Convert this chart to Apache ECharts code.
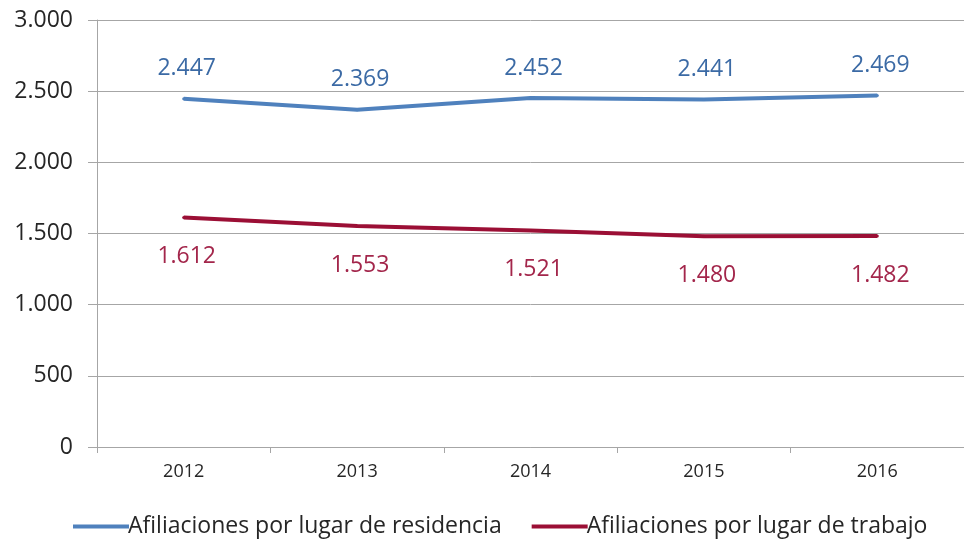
<!DOCTYPE html>
<html><head><meta charset="utf-8">
<script src="https://cdn.jsdelivr.net/npm/echarts@6/dist/echarts.min.js"></script>
<style>html,body{margin:0;padding:0;background:#fff;overflow:hidden}#c{width:964px;height:545px}</style>
</head><body><div id="c"></div>
<script>
const categories = ['2012','2013','2014','2015','2016'];
const residencia = [2447, 2369, 2452, 2441, 2469];
const trabajo = [1612, 1553, 1521, 1480, 1482];
const seriesNames = ['Afiliaciones por lugar de residencia','Afiliaciones por lugar de trabajo'];
const yTicks = [0, 500, 1000, 1500, 2000, 2500, 3000];

const fmt = v => String(v).replace(/\B(?=(\d{3})+(?!\d))/g, '.');
const FONT = 'Open Sans';
const BLUE = '#4f81bd', RED = '#9b0f35';
const chart = echarts.init(document.getElementById('c'));
chart.setOption({
  animation: false,
  textStyle: { fontFamily: FONT },
  grid: { left: 97, right: -7, top: 20, bottom: 98, containLabel: false },
  legend: {
    bottom: 2, left: 68, itemWidth: 56, itemHeight: 4, itemGap: 30,
    icon: 'rect',
    textStyle: { fontSize: 23, color: '#262626', fontFamily: FONT, padding: [0,0,0,-6] },
    data: [
      { name: seriesNames[0], itemStyle: { color: BLUE } },
      { name: seriesNames[1], itemStyle: { color: RED } }
    ]
  },
  xAxis: {
    type: 'category', data: categories, boundaryGap: true,
    axisLine: { lineStyle: { color: '#a6a6a6', width: 1 } },
    axisTick: { show: true, length: 6, lineStyle: { color: '#a6a6a6' } },
    axisLabel: { fontSize: 18, color: '#262626', margin: 16, fontFamily: FONT }
  },
  yAxis: {
    type: 'value', min: yTicks[0], max: yTicks[yTicks.length-1], interval: 500,
    axisLine: { show: true, lineStyle: { color: '#a6a6a6' } },
    axisTick: { show: true, length: 9, inside: false, lineStyle: { color: '#a6a6a6' } },
    splitLine: { lineStyle: { color: '#a6a6a6', width: 1 } },
    axisLabel: { fontSize: 23, color: '#262626', margin: 24, formatter: fmt, fontFamily: FONT }
  },
  series: [
    {
      name: seriesNames[0], type: 'line', data: residencia, symbol: 'circle', symbolSize: 3, showSymbol: true,
      lineStyle: { color: BLUE, width: 4 }, itemStyle: { color: BLUE },
      label: { show: true, position: 'top', distance: 17, offset: [3, 0], formatter: p => fmt(p.value), fontSize: 23, color: '#3b6aa5', fontFamily: FONT }
    },
    {
      name: seriesNames[1], type: 'line', data: trabajo, symbol: 'circle', symbolSize: 3, showSymbol: true,
      lineStyle: { color: RED, width: 4 }, itemStyle: { color: RED },
      label: { show: true, position: 'bottom', distance: 26, offset: [3, 0], formatter: p => fmt(p.value), fontSize: 23, color: '#a3264b', fontFamily: FONT }
    }
  ]
});
</script></body></html>
